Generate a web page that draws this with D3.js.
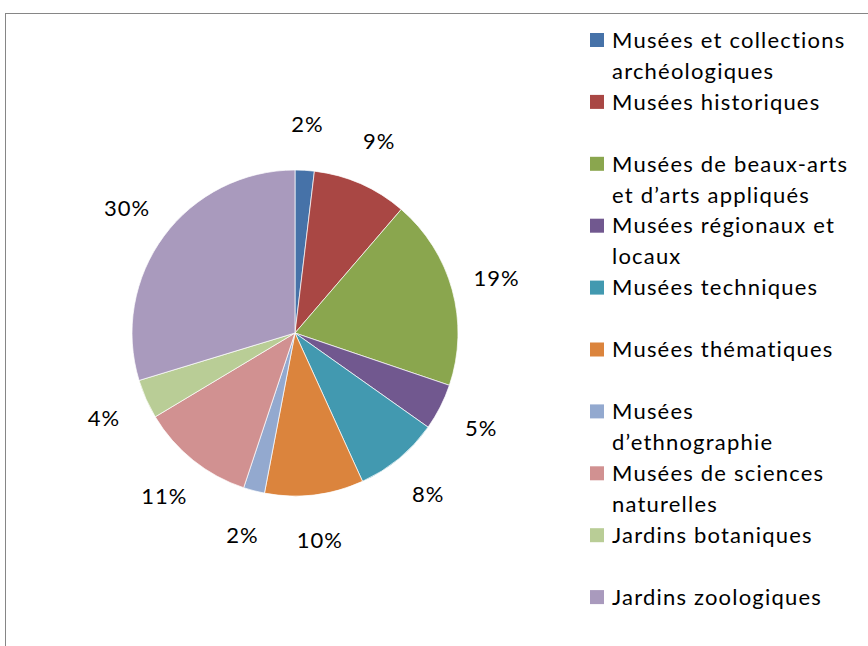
<!DOCTYPE html>
<html>
<head>
<meta charset="utf-8">
<script src="https://cdn.jsdelivr.net/npm/d3@7"></script>
<style>
  body { margin: 0; background: #fff; }
  svg text { font-family: Lato, "Open Sans", sans-serif; fill: #000; font-variant-ligatures: none; }
</style>
</head>
<body>
<svg id="chart" width="868" height="646"></svg>
<script>
// data (share of each type, %)
var categories = [
    "Musées et collections archéologiques",
    "Musées historiques",
    "Musées de beaux-arts et d’arts appliqués",
    "Musées régionaux et locaux",
    "Musées techniques",
    "Musées thématiques",
    "Musées d’ethnographie",
    "Musées de sciences naturelles",
    "Jardins botaniques",
    "Jardins zoologiques"
];
var values = [1.9, 9.4, 18.9, 4.6, 8.4, 9.8, 2.1, 11.3, 3.9, 29.7];
var colors = ["#4672a8", "#a94744", "#8aa64e", "#71588f", "#4299b0",
              "#db843d", "#93a9cf", "#d19191", "#b9cd96", "#a99abd"];

var svg = d3.select("#chart");
var W = 868, H = 646;

// chart area frame (only top and left edges are visible)
svg.append("rect")
    .attr("x", 5.5).attr("y", 13.5)
    .attr("width", W).attr("height", H)
    .attr("fill", "none")
    .attr("stroke", "#868686")
    .attr("stroke-width", 1);

var cx = 295, cy = 333, radius = 163;
var total = d3.sum(values);
var pctFormat = d3.format(".0%");

var data = categories.map(function(c, i) { return { name: c, value: values[i], color: colors[i] }; });

var pie = d3.pie().sort(null).value(function(d) { return d.value; });
var arc = d3.arc().innerRadius(0).outerRadius(radius);
var labelArc = d3.arc().innerRadius(209).outerRadius(209);

var g = svg.append("g").attr("transform", "translate(" + cx + "," + cy + ")");

g.selectAll("path")
    .data(pie(data))
    .enter()
    .append("path")
    .attr("d", arc)
    .attr("fill", function(d) { return d.data.color; })
    .attr("stroke", "#fff")
    .attr("stroke-width", 0.7);

// percentage labels outside the pie
g.selectAll("text.pct")
    .data(pie(data))
    .enter()
    .append("text")
    .attr("class", "pct")
    .attr("transform", function(d) { return "translate(" + labelArc.centroid(d) + ")"; })
    .attr("text-anchor", "middle")
    .attr("dy", "0.35em")
    .style("font-size", "22px")
    .style("letter-spacing", "1px")
    .text(function(d) { return pctFormat(d.data.value / total); });

// legend
var legendX = 590, legendY = 40, slot = 61.9, lineH = 31, maxW = 245;

var legend = svg.append("g");

data.forEach(function(d, i) {
    var y0 = legendY + i * slot;
    legend.append("rect")
        .attr("x", legendX)
        .attr("y", y0 - 7)
        .attr("width", 14)
        .attr("height", 14)
        .attr("fill", d.color);

    var t = legend.append("text")
        .attr("x", legendX + 22)
        .attr("y", y0)
        .style("font-size", "22px")
        .style("letter-spacing", "1.2px");

    // wrap words onto lines no wider than maxW
    var words = d.name.split(" ");
    var line = [];
    var tspan = t.append("tspan").attr("x", legendX + 22).attr("dy", "0.35em");
    words.forEach(function(w) {
        line.push(w);
        tspan.text(line.join(" "));
        if (tspan.node().getComputedTextLength() > maxW && line.length > 1) {
            line.pop();
            tspan.text(line.join(" "));
            line = [w];
            tspan = t.append("tspan")
                .attr("x", legendX + 22)
                .attr("dy", lineH + "px")
                .text(w);
        }
    });
});
</script>
</body>
</html>
